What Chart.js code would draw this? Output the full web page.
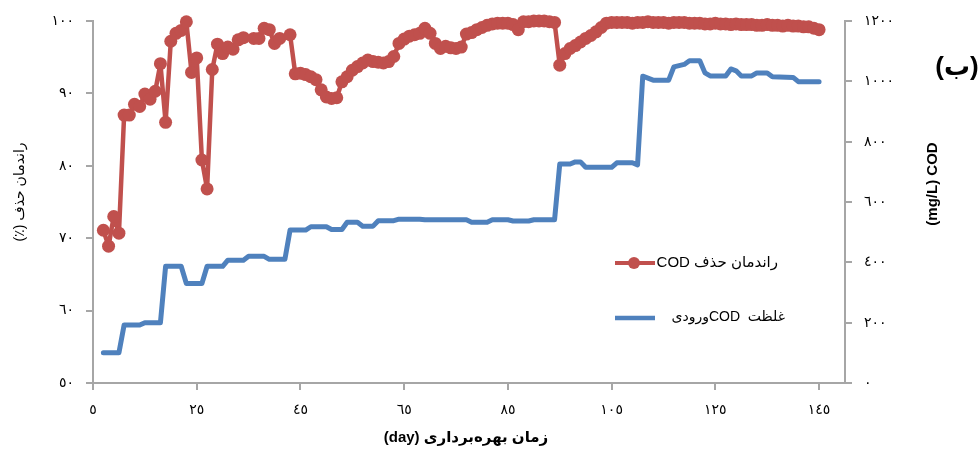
<!DOCTYPE html>
<html><head><meta charset="utf-8">
<script src="https://cdn.jsdelivr.net/npm/chart.js@4.4.1/dist/chart.umd.min.js"></script>
<style>html,body{margin:0;padding:0;background:#fff}canvas{display:block}</style>
</head><body>
<canvas id="c" width="979" height="452"></canvas>
<script>
// ---- data ----
const removalDays = [7,8,9,10,11,12,13,14,15,16,17,18,19,20,21,22,23,24,25,26,27,28,29,30,31,32,33,34,36,37,38,39,40,41,43,
  44,45,46,47,48,49,50,51,52,53,54,55,56,57,58,59,60,61,62,63,64,65,66,67,68,69,70,71,72,73,74,75,76,77,78,79,80,
  81,82,83,84,85,86,87,88,89,90,91,92,93,94,95,96,97,98,99,100,101,102,103,104,105,106,107,108,109,110,111,112,113,
  114,115,116,117,118,119,120,121,122,123,124,125,126,127,128,129,130,131,132,133,134,135,136,137,138,139,140,141,142,143,144,145];
const removalPct = [71.1,68.9,73.0,70.7,87.0,87.0,88.5,88.2,89.9,89.2,90.3,94.1,86.0,97.2,98.3,98.7,99.9,92.9,94.9,80.8,76.8,93.3,96.8,95.5,96.4,96.1,97.4,97.7,97.6,97.6,99.0,98.8,96.9,97.6,98.1,
  92.7,92.8,92.6,92.3,91.9,90.5,89.5,89.3,89.4,91.6,92.3,93.2,93.7,94.2,94.6,94.4,94.3,94.2,94.4,95.1,96.9,97.5,97.9,98.1,98.3,99.0,98.3,96.9,96.2,96.5,96.3,96.2,96.4,98.2,98.4,98.8,99.1,
  99.4,99.6,99.7,99.7,99.7,99.5,98.8,99.9,99.9,100,100,100,99.9,99.8,93.9,95.5,96.2,96.6,97.1,97.6,98.0,98.5,99.1,99.7,99.8,99.8,99.8,99.8,99.7,99.8,99.8,99.9,99.8,
  99.8,99.8,99.7,99.8,99.8,99.8,99.7,99.7,99.7,99.6,99.6,99.7,99.6,99.6,99.5,99.6,99.5,99.5,99.5,99.4,99.4,99.5,99.4,99.4,99.3,99.4,99.3,99.3,99.2,99.2,99.0,98.8];

const inflowDays = [7,10,11,14,15,18,19,22,23,26,27,30,31,34,35,38,39,42,43,46,47,50,51,53,54,56,57,59,60,63,64,68,69,77,78,81,82,85,86,89,90,94,
  95,97,98,99,100,105,106,109,110,111,113,116,117,119,120,122,123,124,127,128,129,130,132,133,135,136,140,141,145];
const inflowCOD = [100,100,192,192,200,200,387,387,330,330,387,387,407,407,420,420,410,410,507,507,518,518,509,509,533,533,520,520,538,538,543,543,541,541,533,533,541,541,537,537,541,541,
  726,726,733,733,715,715,730,730,723,1017,1004,1004,1048,1056,1068,1068,1028,1018,1018,1041,1035,1018,1018,1028,1028,1015,1013,999,999];

const xTickValues = [5,25,45,65,85,105,125,145];
const xTickLabels = ['٥','٢٥','٤٥','٦٥','٨٥','١٠٥','١٢٥','١٤٥'];
const leftTickValues = [50,60,70,80,90,100];
const leftTickLabels = ['٥٠','٦٠','٧٠','٨٠','٩٠','١٠٠'];
const rightTickValues = [0,200,400,600,800,1000,1200];
const rightTickLabels = ['٠','٢٠٠','٤٠٠','٦٠٠','٨٠٠','١٠٠٠','١٢٠٠'];

const removalLabel = 'راندمان حذف COD';
const inflowLabel = 'غلظت  CODورودی';
const xTitle = 'زمان بهره‌برداری (day)';
const leftTitle = 'راندمان حذف (٪)';
const rightTitle = '(mg/L) COD';
const panelTag = '(ب)';

// ---- styling ----
const RED = '#C0504D', BLUE = '#4F81BD', AXIS = '#a6a6a6';
const FAM = '"Liberation Sans","DejaVu Sans",sans-serif';

const overlay = {
  id: 'overlay',
  afterDraw(chart) {
    const ctx = chart.ctx, a = chart.chartArea;
    ctx.save();
    ctx.fillStyle = '#000';
    ctx.textBaseline = 'middle';
    ctx.textAlign = 'center';
    // x title
    ctx.direction = 'rtl';
    ctx.font = 'bold 15px ' + FAM;
    ctx.fillText(xTitle, (a.left + a.right) / 2 - 3, 438);
    // left title
    ctx.save();
    ctx.translate(20, (a.top + a.bottom) / 2 - 10);
    ctx.rotate(-Math.PI / 2);
    ctx.direction = 'rtl';
    ctx.font = '14px ' + FAM;
    ctx.fillText(leftTitle, 0, 0);
    ctx.restore();
    // right title
    ctx.save();
    ctx.translate(933, 184);
    ctx.rotate(-Math.PI / 2);
    ctx.direction = 'ltr';
    ctx.font = 'bold 15px ' + FAM;
    ctx.fillText(rightTitle, 0, 0);
    ctx.restore();
    // panel tag
    ctx.direction = 'rtl';
    ctx.font = 'bold 26px ' + FAM;
    ctx.fillText(panelTag, 957, 68);
    // legend
    const ds = chart.data.datasets;
    ctx.lineCap = 'butt';
    ctx.strokeStyle = RED; ctx.lineWidth = 4;
    ctx.beginPath(); ctx.moveTo(615, 263); ctx.lineTo(655, 263); ctx.stroke();
    ctx.fillStyle = RED;
    ctx.beginPath(); ctx.arc(634, 263, 6, 0, Math.PI * 2); ctx.fill();
    ctx.strokeStyle = BLUE; ctx.lineWidth = 4.5;
    ctx.beginPath(); ctx.moveTo(615, 318); ctx.lineTo(655, 318); ctx.stroke();
    ctx.fillStyle = '#000';
    ctx.font = '15px ' + FAM;
    ctx.direction = 'rtl';
    ctx.textAlign = 'right';
    ctx.fillText(ds[0].label, 778, 263);
    ctx.font = '14px ' + FAM;
    ctx.fillText(ds[1].label, 785, 317);
    ctx.restore();
  }
};

function tickCfg(vals, labels) {
  return {
    callback: v => { const i = vals.indexOf(v); return i >= 0 ? labels[i] : ''; },
    font: { size: 14, family: FAM },
    color: '#000',
    padding: 12,
    autoSkip: false,
    maxRotation: 0
  };
}
const gridCfg = { drawOnChartArea: false, drawTicks: true, tickLength: 7, color: AXIS, lineWidth: 2 };
const borderCfg = { color: AXIS, width: 2 };

new Chart(document.getElementById('c'), {
  type: 'line',
  data: {
    datasets: [
      {
        label: removalLabel,
        data: removalDays.map((d, i) => ({ x: d, y: removalPct[i] })),
        yAxisID: 'yL',
        borderColor: RED, backgroundColor: RED,
        borderWidth: 4.5, borderJoinStyle: 'round', borderCapStyle: 'round',
        pointRadius: 6.5, pointBackgroundColor: RED, pointBorderColor: RED, pointBorderWidth: 0,
        tension: 0, clip: false
      },
      {
        label: inflowLabel,
        data: inflowDays.map((d, i) => ({ x: d, y: inflowCOD[i] })),
        yAxisID: 'yR',
        borderColor: BLUE, backgroundColor: BLUE,
        borderWidth: 5, pointRadius: 0, tension: 0,
        borderJoinStyle: 'round', borderCapStyle: 'round', clip: false
      }
    ]
  },
  options: {
    responsive: false, animation: false, devicePixelRatio: 1,
    layout: { padding: { top: 21, left: 0, right: 0, bottom: 0 } },
    plugins: { legend: { display: false }, tooltip: { enabled: false } },
    scales: {
      x: {
        type: 'linear', min: 5, max: 150,
        afterBuildTicks: s => { s.ticks = xTickValues.map(v => ({ value: v })); },
        ticks: tickCfg(xTickValues, xTickLabels),
        grid: gridCfg, border: borderCfg,
        afterFit: s => { s.height = 69; }
      },
      yL: {
        position: 'left', min: 50, max: 100,
        afterBuildTicks: s => { s.ticks = leftTickValues.map(v => ({ value: v })); },
        ticks: tickCfg(leftTickValues, leftTickLabels),
        grid: gridCfg, border: borderCfg,
        afterFit: s => { s.width = 93; }
      },
      yR: {
        position: 'right', min: 0, max: 1200,
        afterBuildTicks: s => { s.ticks = rightTickValues.map(v => ({ value: v })); },
        ticks: tickCfg(rightTickValues, rightTickLabels),
        grid: gridCfg, border: borderCfg,
        afterFit: s => { s.width = 134; }
      }
    }
  },
  plugins: [overlay]
});
</script>
</body></html>
